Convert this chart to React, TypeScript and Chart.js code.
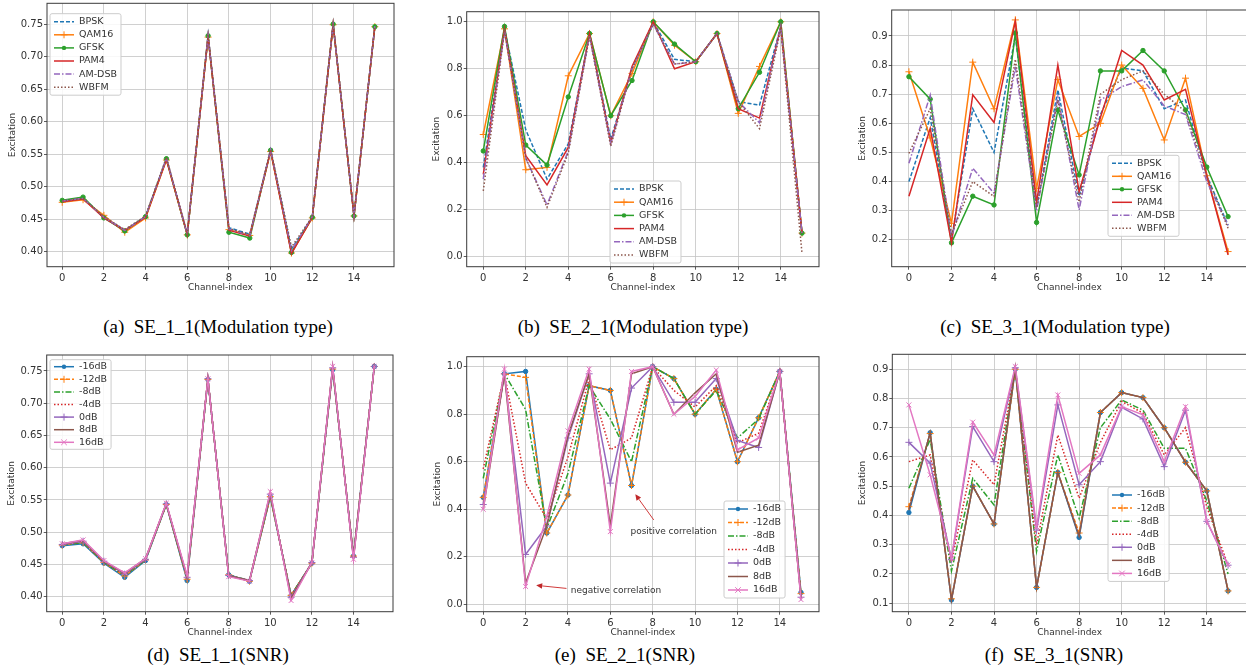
import React, { useEffect, useRef } from "react";
import { Chart, registerables } from "chart.js";
Chart.register(...registerables);

// ---------------- data ----------------
const CHANNELS = [0, 1, 2, 3, 4, 5, 6, 7, 8, 9, 10, 11, 12, 13, 14, 15];
const X_TICKS = [0, 2, 4, 6, 8, 10, 12, 14];
const Y_TICKS_SE1 = [0.4, 0.45, 0.5, 0.55, 0.6, 0.65, 0.7, 0.75];
const Y_TICKS_SE2 = [0, 0.2, 0.4, 0.6, 0.8, 1.0];
const Y_TICKS_SE3C = [0.2, 0.3, 0.4, 0.5, 0.6, 0.7, 0.8, 0.9];
const Y_TICKS_SE3F = [0.1, 0.2, 0.3, 0.4, 0.5, 0.6, 0.7, 0.8, 0.9];

const MOD_NAMES = ["BPSK", "QAM16", "GFSK", "PAM4", "AM-DSB", "WBFM"];
const SNR_NAMES = ["-16dB", "-12dB", "-8dB", "-4dB", "0dB", "8dB", "16dB"];

// (a) SE_1_1 modulation type
const A_BPSK = [0.478, 0.483, 0.453, 0.433, 0.454, 0.543, 0.427, 0.732, 0.437, 0.427, 0.556, 0.404, 0.453, 0.75, 0.455, 0.746];
const A_QAM16 = [0.476, 0.48, 0.456, 0.43, 0.452, 0.541, 0.426, 0.73, 0.434, 0.425, 0.554, 0.398, 0.452, 0.749, 0.455, 0.746];
const A_GFSK = [0.479, 0.484, 0.452, 0.432, 0.454, 0.543, 0.426, 0.732, 0.43, 0.421, 0.556, 0.399, 0.453, 0.75, 0.455, 0.746];
const A_PAM4 = [0.477, 0.481, 0.452, 0.433, 0.453, 0.542, 0.427, 0.731, 0.433, 0.424, 0.555, 0.397, 0.453, 0.749, 0.455, 0.746];
const A_AMDSB = [0.478, 0.482, 0.453, 0.433, 0.454, 0.544, 0.427, 0.733, 0.435, 0.425, 0.557, 0.402, 0.454, 0.75, 0.456, 0.747];
const A_WBFM = [0.478, 0.482, 0.454, 0.434, 0.455, 0.545, 0.428, 0.734, 0.436, 0.426, 0.558, 0.407, 0.454, 0.751, 0.456, 0.747];

// (b) SE_2_1 modulation type
const B_BPSK = [0.38, 0.97, 0.54, 0.33, 0.48, 0.95, 0.5, 0.8, 1.0, 0.84, 0.83, 0.95, 0.66, 0.645, 0.98, 0.1];
const B_QAM16 = [0.52, 0.97, 0.37, 0.38, 0.77, 0.95, 0.6, 0.78, 1.0, 0.9, 0.83, 0.95, 0.61, 0.81, 1.0, 0.1];
const B_GFSK = [0.45, 0.98, 0.475, 0.39, 0.68, 0.95, 0.6, 0.75, 1.0, 0.905, 0.83, 0.95, 0.63, 0.785, 1.0, 0.1];
const B_PAM4 = [0.35, 0.97, 0.43, 0.305, 0.465, 0.95, 0.485, 0.81, 1.0, 0.8, 0.83, 0.95, 0.63, 0.59, 0.98, 0.1];
const B_AMDSB = [0.33, 0.96, 0.42, 0.22, 0.45, 0.94, 0.48, 0.8, 0.99, 0.82, 0.83, 0.95, 0.66, 0.57, 0.98, 0.1];
const B_WBFM = [0.28, 0.96, 0.42, 0.21, 0.44, 0.94, 0.47, 0.8, 0.99, 0.82, 0.83, 0.95, 0.66, 0.545, 0.97, 0.014];

// (c) SE_3_1 modulation type
const C_BPSK = [0.4, 0.62, 0.2, 0.65, 0.5, 0.9, 0.31, 0.715, 0.35, 0.63, 0.79, 0.78, 0.65, 0.68, 0.42, 0.25];
const C_QAM16 = [0.777, 0.55, 0.257, 0.81, 0.65, 0.955, 0.377, 0.75, 0.555, 0.6, 0.8, 0.72, 0.543, 0.755, 0.42, 0.16];
const C_GFSK = [0.76, 0.683, 0.19, 0.35, 0.32, 0.91, 0.26, 0.646, 0.423, 0.78, 0.78, 0.85, 0.78, 0.646, 0.45, 0.28];
const C_PAM4 = [0.35, 0.583, 0.19, 0.698, 0.603, 0.95, 0.33, 0.8, 0.366, 0.62, 0.85, 0.8, 0.68, 0.717, 0.42, 0.149];
const C_AMDSB = [0.463, 0.697, 0.21, 0.446, 0.36, 0.795, 0.3, 0.69, 0.303, 0.68, 0.726, 0.749, 0.66, 0.63, 0.4, 0.25];
const C_WBFM = [0.497, 0.65, 0.22, 0.4, 0.349, 0.82, 0.31, 0.68, 0.33, 0.7, 0.75, 0.78, 0.7, 0.64, 0.42, 0.24];

// (d) SE_1_1 SNR
const D_M16 = [0.479, 0.482, 0.452, 0.43, 0.456, 0.543, 0.425, 0.737, 0.434, 0.424, 0.555, 0.402, 0.452, 0.752, 0.463, 0.757];
const D_M12 = [0.48, 0.484, 0.453, 0.432, 0.457, 0.543, 0.427, 0.737, 0.434, 0.424, 0.555, 0.402, 0.452, 0.753, 0.463, 0.757];
const D_M8 = [0.48, 0.484, 0.453, 0.433, 0.457, 0.543, 0.428, 0.737, 0.434, 0.425, 0.556, 0.402, 0.452, 0.753, 0.463, 0.757];
const D_M4 = [0.481, 0.485, 0.454, 0.434, 0.458, 0.544, 0.429, 0.738, 0.433, 0.425, 0.557, 0.401, 0.453, 0.754, 0.462, 0.757];
const D_0 = [0.481, 0.486, 0.455, 0.435, 0.458, 0.544, 0.43, 0.738, 0.433, 0.425, 0.559, 0.399, 0.453, 0.755, 0.461, 0.757];
const D_8 = [0.482, 0.487, 0.455, 0.436, 0.459, 0.544, 0.431, 0.738, 0.432, 0.425, 0.561, 0.397, 0.453, 0.756, 0.46, 0.757];
const D_16 = [0.482, 0.488, 0.456, 0.437, 0.459, 0.545, 0.433, 0.738, 0.431, 0.424, 0.563, 0.394, 0.453, 0.757, 0.458, 0.757];

// (e) SE_2_1 SNR
const E_M16 = [0.45, 0.97, 0.98, 0.3, 0.46, 0.92, 0.9, 0.5, 1.0, 0.95, 0.8, 0.905, 0.6, 0.785, 0.98, 0.05];
const E_M12 = [0.45, 0.97, 0.955, 0.3, 0.46, 0.92, 0.9, 0.5, 1.0, 0.95, 0.8, 0.905, 0.6, 0.785, 0.98, 0.045];
const E_M8 = [0.53, 0.97, 0.82, 0.32, 0.55, 0.92, 0.78, 0.6, 1.0, 0.95, 0.8, 0.9, 0.7, 0.78, 0.98, 0.04];
const E_M4 = [0.57, 0.97, 0.51, 0.36, 0.62, 0.95, 0.65, 0.7, 1.0, 0.9, 0.83, 0.92, 0.68, 0.72, 0.98, 0.03];
const E_0 = [0.42, 0.97, 0.21, 0.33, 0.7, 0.97, 0.51, 0.91, 1.0, 0.85, 0.85, 0.95, 0.69, 0.66, 0.98, 0.03];
const E_8 = [0.4, 0.97, 0.09, 0.33, 0.71, 0.97, 0.33, 0.97, 1.0, 0.8, 0.89, 0.97, 0.64, 0.67, 0.98, 0.025];
const E_16 = [0.4, 0.99, 0.075, 0.37, 0.73, 0.99, 0.306, 0.98, 1.0, 0.8, 0.875, 0.986, 0.65, 0.7, 0.98, 0.02];

// (f) SE_3_1 SNR
const F_M16 = [0.41, 0.683, 0.111, 0.5, 0.371, 0.9, 0.154, 0.547, 0.325, 0.752, 0.82, 0.803, 0.7, 0.582, 0.484, 0.142];
const F_M12 = [0.43, 0.68, 0.115, 0.5, 0.371, 0.9, 0.154, 0.547, 0.34, 0.752, 0.82, 0.803, 0.7, 0.582, 0.484, 0.142];
const F_M8 = [0.493, 0.66, 0.21, 0.527, 0.436, 0.9, 0.277, 0.607, 0.39, 0.7, 0.795, 0.76, 0.63, 0.63, 0.45, 0.2];
const F_M4 = [0.584, 0.607, 0.24, 0.59, 0.505, 0.9, 0.3, 0.675, 0.459, 0.65, 0.79, 0.75, 0.607, 0.7, 0.43, 0.23];
const F_0 = [0.65, 0.579, 0.25, 0.704, 0.584, 0.905, 0.35, 0.778, 0.505, 0.584, 0.77, 0.73, 0.567, 0.76, 0.38, 0.23];
const F_8 = [0.42, 0.683, 0.111, 0.5, 0.371, 0.905, 0.154, 0.547, 0.33, 0.752, 0.82, 0.803, 0.7, 0.582, 0.484, 0.142];
const F_16 = [0.778, 0.539, 0.254, 0.719, 0.607, 0.909, 0.362, 0.812, 0.544, 0.607, 0.772, 0.744, 0.584, 0.772, 0.38, 0.231];

// annotations of (e), in data coordinates
const E_ANNOT_TEXT = ["negative correlation", "positive correlation"];
const E_ANNOT_TIP = [[2.5, 0.08], [7.18, 0.463]];
const E_ANNOT_TAIL = [[3.93, 0.067], [8.05, 0.355]];
const E_ANNOT_LABEL = [[4.13, 0.058], [6.95, 0.306]];

const CAPTIONS = [
  "(a)  SE_1_1(Modulation type)",
  "(b)  SE_2_1(Modulation type)",
  "(c)  SE_3_1(Modulation type)",
  "(d)  SE_1_1(SNR)",
  "(e)  SE_2_1(SNR)",
  "(f)  SE_3_1(SNR)",
];

// ---------------- styles ----------------
type Style = { color: string; dash: number[]; point: string | null; radius: number };

const MOD_STYLES: Style[] = [
  { color: "#1f77b4", dash: [4, 2], point: null, radius: 0 },
  { color: "#ff7f0e", dash: [], point: "cross", radius: 3.5 },
  { color: "#2ca02c", dash: [], point: "circle", radius: 2.2 },
  { color: "#d62728", dash: [], point: null, radius: 0 },
  { color: "#9467bd", dash: [6, 2, 1.5, 2], point: null, radius: 0 },
  { color: "#8c564b", dash: [1.5, 2], point: null, radius: 0 },
];
const SNR_STYLES: Style[] = [
  { color: "#1f77b4", dash: [], point: "circle", radius: 2.2 },
  { color: "#ff7f0e", dash: [4, 2], point: "cross", radius: 3.5 },
  { color: "#2ca02c", dash: [6, 2, 1.5, 2], point: null, radius: 0 },
  { color: "#d62728", dash: [1.5, 2], point: null, radius: 0 },
  { color: "#9467bd", dash: [], point: "cross", radius: 3.5 },
  { color: "#8c564b", dash: [], point: null, radius: 0 },
  { color: "#e377c2", dash: [], point: "crossRot", radius: 3.5 },
];

const FONT = '"DejaVu Sans", "Liberation Sans", sans-serif';
const TEXT = "#333333";
const GRID = "#c4c4c4";

type LegendCfg = { left: number; top: number; row: number; pad: number };
type PanelCfg = {
  L: number; T: number; R: number; B: number;
  yTitleX: number; xTitleY: number;
  xMin: number; xMax: number; yMin: number; yMax: number;
  yTicks: number[]; yDec: number;
  names: string[]; styles: Style[]; series: number[][];
  legend: LegendCfg;
  annot?: boolean;
};

const PANELS: PanelCfg[] = [
  {
    L: 47, T: 3.3, R: 395, B: 266.7, yTitleX: 12.7, xTitleY: 288,
    xMin: -0.73, xMax: 15.92, yMin: 0.377, yMax: 0.782, yTicks: Y_TICKS_SE1, yDec: 2,
    names: MOD_NAMES, styles: MOD_STYLES,
    series: [A_BPSK, A_QAM16, A_GFSK, A_PAM4, A_AMDSB, A_WBFM],
    legend: { left: 50, top: 13.7, row: 13.1, pad: 8 },
  },
  {
    L: 466.7, T: 11.7, R: 820, B: 266.7, yTitleX: 437, xTitleY: 288.3,
    xMin: -0.78, xMax: 15.8, yMin: -0.043, yMax: 1.043, yTicks: Y_TICKS_SE2, yDec: 1,
    names: MOD_NAMES, styles: MOD_STYLES,
    series: [B_BPSK, B_QAM16, B_GFSK, B_PAM4, B_AMDSB, B_WBFM],
    legend: { left: 610, top: 181, row: 13.2, pad: 8 },
  },
  {
    L: 891.7, T: 10, R: 1248, B: 266.7, yTitleX: 863, xTitleY: 288.3,
    xMin: -0.81, xMax: 15.89, yMin: 0.108, yMax: 0.989, yTicks: Y_TICKS_SE3C, yDec: 1,
    names: MOD_NAMES, styles: MOD_STYLES,
    series: [C_BPSK, C_QAM16, C_GFSK, C_PAM4, C_AMDSB, C_WBFM],
    legend: { left: 1108, top: 155.3, row: 13, pad: 8 },
  },
  {
    L: 46.7, T: 355, R: 394, B: 611.7, yTitleX: 11.7, xTitleY: 633.3,
    xMin: -0.75, xMax: 15.9, yMin: 0.3767, yMax: 0.7748, yTicks: Y_TICKS_SE1, yDec: 2,
    names: SNR_NAMES, styles: SNR_STYLES,
    series: [D_M16, D_M12, D_M8, D_M4, D_0, D_8, D_16],
    legend: { left: 50, top: 359.7, row: 12.6, pad: 7 },
  },
  {
    L: 466.7, T: 356.7, R: 820, B: 611.7, yTitleX: 438, xTitleY: 633.3,
    xMin: -0.78, xMax: 15.85, yMin: -0.031, yMax: 1.042, yTicks: Y_TICKS_SE2, yDec: 1,
    names: SNR_NAMES, styles: SNR_STYLES,
    series: [E_M16, E_M12, E_M8, E_M4, E_0, E_8, E_16],
    legend: { left: 724, top: 501, row: 13.5, pad: 8 },
    annot: true,
  },
  {
    L: 892.3, T: 354.3, R: 1248, B: 611.7, yTitleX: 863, xTitleY: 633.3,
    xMin: -0.78, xMax: 15.89, yMin: 0.071, yMax: 0.951, yTicks: Y_TICKS_SE3F, yDec: 1,
    names: SNR_NAMES, styles: SNR_STYLES,
    series: [F_M16, F_M12, F_M8, F_M4, F_0, F_8, F_16],
    legend: { left: 1108, top: 487, row: 13.07, pad: 8 },
  },
];

const CAPTION_POS = [
  [218, 327], [633, 327], [1055, 327],
  [218, 655], [625, 655], [1054, 655],
];

// ---------------- drawing helpers ----------------
function drawMarker(ctx: CanvasRenderingContext2D, style: string | null, x: number, y: number, r: number, color: string) {
  if (!style) return;
  ctx.save();
  ctx.setLineDash([]);
  ctx.strokeStyle = color;
  ctx.fillStyle = color;
  ctx.lineWidth = 1;
  ctx.beginPath();
  if (style === "circle") {
    ctx.arc(x, y, r, 0, Math.PI * 2);
    ctx.fill();
  } else if (style === "cross") {
    ctx.moveTo(x - r, y); ctx.lineTo(x + r, y);
    ctx.moveTo(x, y - r); ctx.lineTo(x, y + r);
    ctx.stroke();
  } else if (style === "crossRot") {
    const d = r * 0.8;
    ctx.moveTo(x - d, y - d); ctx.lineTo(x + d, y + d);
    ctx.moveTo(x - d, y + d); ctx.lineTo(x + d, y - d);
    ctx.stroke();
  }
  ctx.restore();
}

function Panel({ cfg }: { cfg: PanelCfg }) {
  const ref = useRef<HTMLCanvasElement | null>(null);
  const cx = Math.round(cfg.yTitleX - 10);
  const cy = Math.round(cfg.T - 12);
  const cw = Math.round(cfg.R + 4 - cx);
  const ch = Math.round(cfg.xTitleY + 10 - cy);

  useEffect(() => {
    const canvas = ref.current;
    if (!canvas) return;
    const yw = cfg.L - cx;
    const xh = cy + ch - cfg.B;
    const padTop = cfg.T - cy;
    const padRight = cx + cw - cfg.R;
    const n = cfg.series.length;

    const datasets = cfg.series.map((vals, i) => {
      const st = cfg.styles[i];
      return {
        label: cfg.names[i],
        data: CHANNELS.map((c, k) => ({ x: c, y: vals[k] })),
        borderColor: st.color,
        backgroundColor: st.color,
        borderWidth: 1.5,
        borderDash: st.dash,
        pointStyle: st.point || "circle",
        pointRadius: st.point ? st.radius : 0,
        pointBorderWidth: 1,
        pointBorderColor: st.color,
        pointBackgroundColor: st.color,
        tension: 0,
        fill: false,
        order: n - i,
      };
    });

    const framePlugin = {
      id: "frame",
      afterDatasetsDraw(chart: any) {
        const { ctx, chartArea: a } = chart;
        ctx.save();
        ctx.strokeStyle = "#3a3a3a";
        ctx.lineWidth = 1;
        ctx.setLineDash([]);
        ctx.strokeRect(a.left, a.top, a.right - a.left, a.bottom - a.top);
        ctx.restore();
      },
    };

    const annotPlugin = {
      id: "annot",
      afterDatasetsDraw(chart: any) {
        if (!cfg.annot) return;
        const { ctx } = chart;
        const xs = chart.scales.x;
        const ys = chart.scales.y;
        ctx.save();
        for (let i = 0; i < E_ANNOT_TEXT.length; i++) {
          const tx = xs.getPixelForValue(E_ANNOT_TIP[i][0]);
          const ty = ys.getPixelForValue(E_ANNOT_TIP[i][1]);
          const sx = xs.getPixelForValue(E_ANNOT_TAIL[i][0]);
          const sy = ys.getPixelForValue(E_ANNOT_TAIL[i][1]);
          const ang = Math.atan2(ty - sy, tx - sx);
          const hl = 6, hw = 2.8;
          const bx = tx - hl * Math.cos(ang);
          const by = ty - hl * Math.sin(ang);
          ctx.strokeStyle = "#d03a3a";
          ctx.fillStyle = "#c0282a";
          ctx.lineWidth = 1;
          ctx.setLineDash([]);
          ctx.beginPath();
          ctx.moveTo(sx, sy);
          ctx.lineTo(bx, by);
          ctx.stroke();
          ctx.beginPath();
          ctx.moveTo(tx, ty);
          ctx.lineTo(bx + hw * Math.sin(ang), by - hw * Math.cos(ang));
          ctx.lineTo(bx - hw * Math.sin(ang), by + hw * Math.cos(ang));
          ctx.closePath();
          ctx.fill();
          ctx.fillStyle = TEXT;
          ctx.font = `9px ${FONT}`;
          ctx.textAlign = "left";
          ctx.textBaseline = "middle";
          ctx.fillText(E_ANNOT_TEXT[i], xs.getPixelForValue(E_ANNOT_LABEL[i][0]), ys.getPixelForValue(E_ANNOT_LABEL[i][1]));
        }
        ctx.restore();
      },
    };

    const legendPlugin = {
      id: "boxLegend",
      afterDraw(chart: any) {
        const { ctx } = chart;
        const lg = cfg.legend;
        const left = lg.left - cx;
        const top = lg.top - cy;
        ctx.save();
        ctx.font = `9.5px ${FONT}`;
        let maxW = 0;
        for (const nm of cfg.names) maxW = Math.max(maxW, ctx.measureText(nm).width);
        const w = 29 + maxW + 4;
        const h = 2 * lg.pad + (n - 1) * lg.row;
        ctx.fillStyle = "rgba(255,255,255,0.85)";
        ctx.strokeStyle = "#cccccc";
        ctx.lineWidth = 1;
        ctx.setLineDash([]);
        ctx.beginPath();
        if ((ctx as any).roundRect) (ctx as any).roundRect(left, top, w, h, 2);
        else ctx.rect(left, top, w, h);
        ctx.fill();
        ctx.stroke();
        cfg.names.forEach((nm, i) => {
          const st = cfg.styles[i];
          const yy = top + lg.pad + i * lg.row;
          ctx.strokeStyle = st.color;
          ctx.lineWidth = 1.5;
          ctx.setLineDash(st.dash);
          ctx.beginPath();
          ctx.moveTo(left + 4, yy);
          ctx.lineTo(left + 24, yy);
          ctx.stroke();
          drawMarker(ctx, st.point, left + 14, yy, st.radius, st.color);
          ctx.setLineDash([]);
          ctx.fillStyle = TEXT;
          ctx.textAlign = "left";
          ctx.textBaseline = "middle";
          ctx.fillText(nm, left + 29, yy);
        });
        ctx.restore();
      },
    };

    const titleLH = 9 * 1.2;
    const chart = new Chart(canvas, {
      type: "line",
      data: { datasets: datasets as any },
      options: {
        responsive: false,
        animation: false,
        events: [],
        layout: { padding: { left: 0, top: padTop, right: padRight, bottom: 0 } },
        plugins: {
          legend: { display: false },
          tooltip: { enabled: false },
          title: { display: false },
        },
        scales: {
          x: {
            type: "linear",
            min: cfg.xMin,
            max: cfg.xMax,
            afterBuildTicks: (s: any) => {
              s.ticks = X_TICKS.map((v) => ({ value: v }));
            },
            afterFit: (s: any) => {
              s.height = xh;
            },
            border: { display: false },
            grid: { color: GRID, lineWidth: 0.8, drawTicks: true, tickLength: 3, tickColor: "#333" },
            ticks: {
              font: { family: FONT, size: 10 },
              color: TEXT,
              padding: 3,
              maxRotation: 0,
              autoSkip: false,
              callback: (v: any) => String(v),
            },
            title: {
              display: true,
              text: "Channel-index",
              color: TEXT,
              font: { family: FONT, size: 9, lineHeight: 1.2 },
              padding: { top: 0, bottom: 10 - titleLH / 2 },
            },
          },
          y: {
            type: "linear",
            min: cfg.yMin,
            max: cfg.yMax,
            afterBuildTicks: (s: any) => {
              s.ticks = cfg.yTicks.map((v) => ({ value: v }));
            },
            afterFit: (s: any) => {
              s.width = yw;
            },
            border: { display: false },
            grid: { color: GRID, lineWidth: 0.8, drawTicks: true, tickLength: 3, tickColor: "#333" },
            ticks: {
              font: { family: FONT, size: 10 },
              color: TEXT,
              padding: 1,
              autoSkip: false,
              callback: (v: any) => Number(v).toFixed(cfg.yDec),
            },
            title: {
              display: true,
              text: "Excitation",
              color: TEXT,
              font: { family: FONT, size: 9, lineHeight: 1.2 },
              padding: { top: 10 - titleLH / 2, bottom: 0 },
            },
          },
        },
      } as any,
      plugins: [framePlugin, annotPlugin, legendPlugin],
    });
    return () => chart.destroy();
  }, []);

  return (
    <canvas
      ref={ref}
      width={cw}
      height={ch}
      style={{ position: "absolute", left: cx, top: cy, width: cw, height: ch }}
    />
  );
}

export default function App() {
  return (
    <div
      style={{
        position: "absolute",
        left: 0,
        top: 0,
        width: 1246,
        height: 667,
        overflow: "hidden",
        background: "#ffffff",
      }}
    >
      {PANELS.map((p, i) => (
        <Panel key={i} cfg={p} />
      ))}
      {CAPTIONS.map((c, i) => (
        <div
          key={"c" + i}
          style={{
            position: "absolute",
            left: CAPTION_POS[i][0] - 200,
            top: CAPTION_POS[i][1] - 11,
            width: 400,
            height: 22,
            lineHeight: "22px",
            textAlign: "center",
            fontFamily: '"Liberation Serif", "Times New Roman", serif',
            fontSize: 19,
            whiteSpace: "pre",
            color: "#000",
          }}
        >
          {c}
        </div>
      ))}
    </div>
  );
}
